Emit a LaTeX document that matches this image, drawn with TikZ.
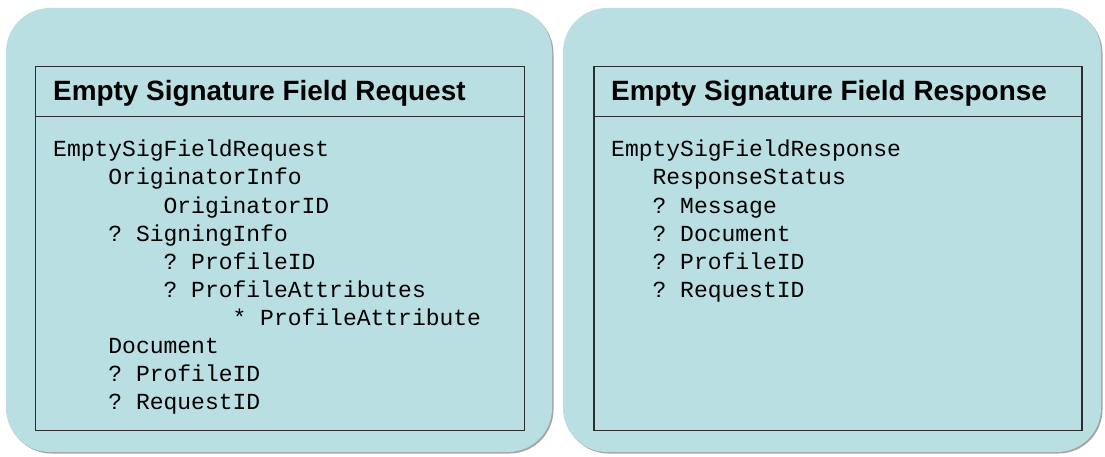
\documentclass[tikz,border=0pt]{standalone}
\usepackage{fontspec}
\setmainfont{Liberation Sans}
\setmonofont{Liberation Mono}
\usetikzlibrary{positioning,shadows}
\definecolor{panelblue}{RGB}{186,223,227}
\definecolor{boxline}{RGB}{45,45,45}
\newlength\cw
\setlength\cw{13.8pt}
\newcommand\ind[1]{\hspace*{#1\cw}}

\begin{document}
\begin{tikzpicture}[x=1pt,y=-1pt,
  panel/.style={fill=panelblue, rounded corners=44pt,
    drop shadow={shadow xshift=1.5pt, shadow yshift=-1.5pt, fill=black!70, opacity=.5}},
  msgbox/.style={draw=boxline, line width=1.3pt},
  head/.style={anchor=base west, inner sep=0pt, font=\bfseries\fontsize{27.9}{30}\selectfont},
  row/.style={inner sep=0pt, text height=19.6pt, text depth=8pt,
    font=\ttfamily\fontsize{23}{27.6}\selectfont}]
  \useasboundingbox (0,0) rectangle (1105,457);
  \path [panel] (6,8) rectangle (552,452);
  \path [panel] (563,8) rectangle (1101,452);
  \draw [msgbox] (35.5,66.5) rectangle (524.5,430.5) (35.5,116.7) -- (524.5,116.7);
  \draw [msgbox] (594,66.5) rectangle (1082,430.5) (594,116.7) -- (1082,116.7);

  \node [head] (Reqhead) at (53,101) {Empty Signature Field Request};
  \node [row, anchor=base west] (R1) at (53,157) {EmptySigFieldRequest};
  \node [row, below right=0pt of R1.south west] (R2) {\ind{4}OriginatorInfo};
  \node [row, below right=0pt of R2.south west] (R3) {\ind{8}OriginatorID};
  \node [row, below right=0pt of R3.south west] (R4) {\ind{4}? SigningInfo};
  \node [row, below right=0pt of R4.south west] (R5) {\ind{8}? ProfileID};
  \node [row, below right=0pt of R5.south west] (R6) {\ind{8}? ProfileAttributes};
  \node [row, below right=0pt of R6.south west] (R7) {\ind{13}* ProfileAttribute};
  \node [row, below right=0pt of R7.south west] (R8) {\ind{4}Document};
  \node [row, below right=0pt of R8.south west] (R9) {\ind{4}? ProfileID};
  \node [row, below right=0pt of R9.south west] (R10) {\ind{4}? RequestID};

  \node [head] (Reshead) at (611,101) {Empty Signature Field Response};
  \node [row, anchor=base west] (S1) at (611,157) {EmptySigFieldResponse};
  \node [row, below right=0pt of S1.south west] (S2) {\ind{3}ResponseStatus};
  \node [row, below right=0pt of S2.south west] (S3) {\ind{3}? Message};
  \node [row, below right=0pt of S3.south west] (S4) {\ind{3}? Document};
  \node [row, below right=0pt of S4.south west] (S5) {\ind{3}? ProfileID};
  \node [row, below right=0pt of S5.south west] (S6) {\ind{3}? RequestID};
\end{tikzpicture}
\end{document}
